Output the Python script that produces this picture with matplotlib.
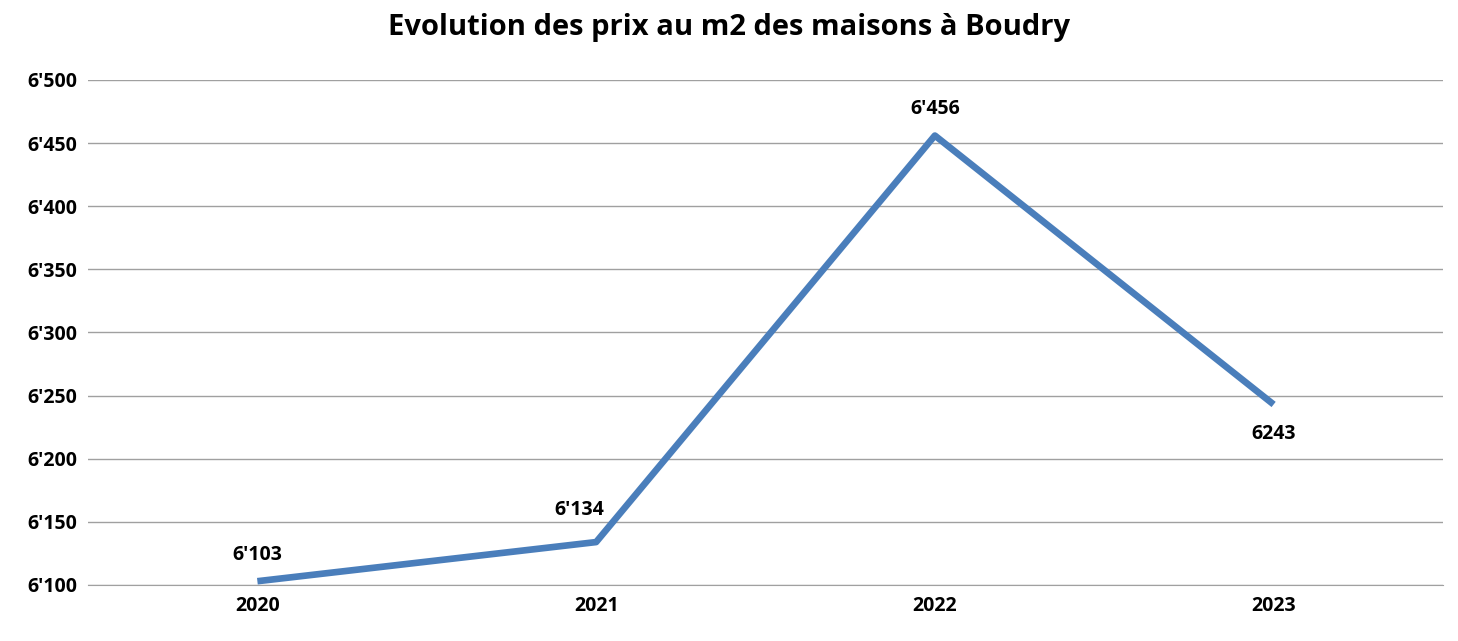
import matplotlib
matplotlib.use('Agg')
import matplotlib.pyplot as plt

# Data
years = ['2020', '2021', '2022', '2023']
prices = [6103, 6134, 6456, 6243]
point_labels = ["6'103", "6'134", "6'456", "6243"]
y_ticks = [6100, 6150, 6200, 6250, 6300, 6350, 6400, 6450, 6500]
y_tick_labels = ["6'100", "6'150", "6'200", "6'250", "6'300", "6'350", "6'400", "6'450", "6'500"]

plt.rcParams['font.family'] = 'Open Sans'

fig = plt.figure(figsize=(14.58, 6.41), dpi=100)
ax = fig.add_axes([88 / 1458, 1 - 585 / 641, (1443 - 88) / 1458, (585 - 80) / 641])

x = range(len(years))
ax.plot(x, prices, color='#4a7ebb', linewidth=4.8, solid_capstyle='butt')

offsets = [(0, 12), (-12, 16), (0, 12), (0, -14)]
for i, (v, lab) in enumerate(zip(prices, point_labels)):
    dx, dy = offsets[i]
    ax.annotate(lab, (i, v), xytext=(dx, dy), textcoords='offset points',
                ha='center', va='bottom' if dy > 0 else 'top',
                fontsize=14, fontweight='bold')

ax.set_xlim(-0.5, 3.5)
ax.set_ylim(6100, 6500)
ax.set_xticks(list(x))
ax.set_xticklabels(years, fontsize=14, fontweight='bold')
ax.set_yticks(y_ticks)
ax.set_yticklabels(y_tick_labels, fontsize=14, fontweight='bold')
ax.grid(axis='y', color='#a0a0a0', linewidth=1)
ax.set_axisbelow(True)
for s in ['top', 'right', 'left']:
    ax.spines[s].set_visible(False)
ax.spines['bottom'].set_color('#a0a0a0')
ax.tick_params(axis='x', length=0, pad=8)
ax.tick_params(axis='y', length=0, pad=8)

fig.suptitle('Evolution des prix au m2 des maisons à Boudry', fontsize=21,
             fontweight='bold', y=0.98)

fig.savefig('out.png', dpi=100)
